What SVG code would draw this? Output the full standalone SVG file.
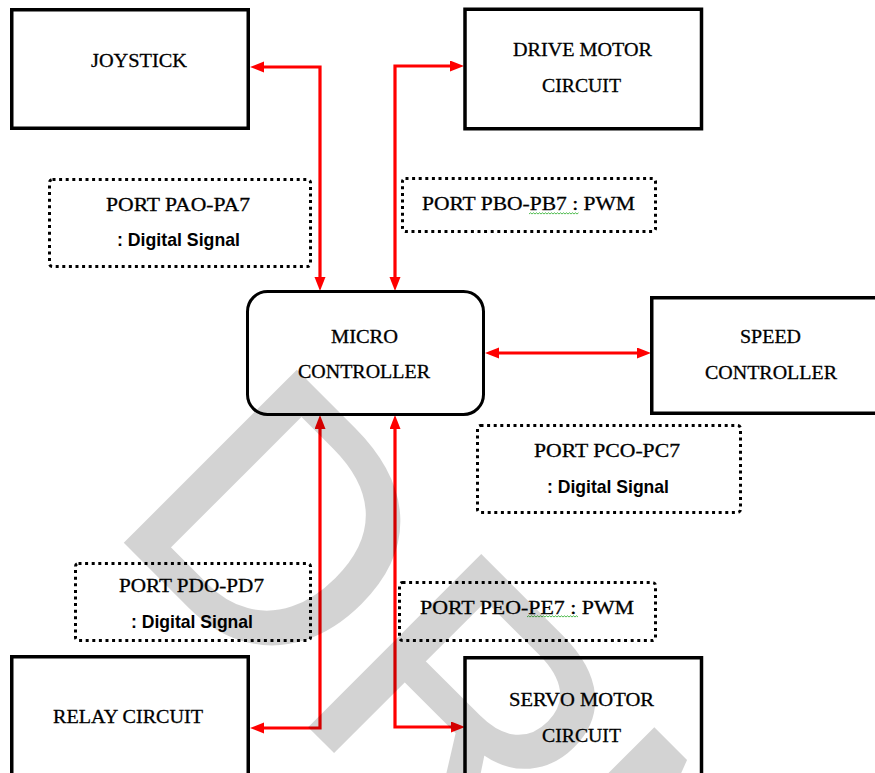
<svg xmlns="http://www.w3.org/2000/svg" width="875" height="773" viewBox="0 0 875 773">
<style>
.box{fill:none;stroke:#000;stroke-width:3.5}
.dot{fill:none;stroke:#000;stroke-width:3;stroke-dasharray:3 3.6}
.t{font-family:"Liberation Serif","Times New Roman",serif;font-size:19.5px;fill:#000;stroke:#000;stroke-width:0.3;text-anchor:middle}
.s{font-family:"Liberation Sans",Arial,sans-serif;font-weight:bold;font-size:19px;fill:#000;text-anchor:middle}
.c{fill:none;stroke:#f00;stroke-width:3.2;marker-start:url(#ah);marker-end:url(#ah)}
.sq{fill:none;stroke:#2a2;stroke-width:0.8}
</style>
<defs>
<marker id="ah" markerUnits="userSpaceOnUse" markerWidth="15" markerHeight="12" refX="5" refY="5.5" orient="auto-start-reverse">
<path d="M0,0 L14,5.5 L0,11 z" fill="#f00"/>
</marker>
</defs>
<rect width="875" height="773" fill="#fff"/>
<g id="connectors">
<path class="c" d="M259,67 H320 V282"/>
<path class="c" d="M395,282 V66 H455"/>
<path class="c" d="M494,353 H642"/>
<path class="c" d="M320,424 V728 H259"/>
<path class="c" d="M395,424 V727 H456"/>
</g>
<g id="joystick">
<rect class="box" x="11.75" y="9.75" width="236.5" height="118.5"/>
<text class="t" x="139" y="67" textLength="96" lengthAdjust="spacingAndGlyphs">JOYSTICK</text>
</g>
<g id="drive-motor">
<rect class="box" x="465" y="9.25" width="236.5" height="119.5"/>
<text class="t" x="582.5" y="56" textLength="139" lengthAdjust="spacingAndGlyphs">DRIVE MOTOR</text>
<text class="t" x="581.5" y="92" textLength="79" lengthAdjust="spacingAndGlyphs">CIRCUIT</text>
</g>
<g id="port-pa">
<rect class="dot" x="49.5" y="179.5" width="261" height="87" rx="3"/>
<text class="t" x="178" y="211" textLength="144" lengthAdjust="spacingAndGlyphs">PORT PAO-PA7</text>
<text class="s" x="178.5" y="246" textLength="123" lengthAdjust="spacingAndGlyphs">: Digital Signal</text>
</g>
<g id="port-pb">
<rect class="dot" x="402.5" y="178.5" width="253" height="53" rx="3"/>
<text class="t" x="528.5" y="210" textLength="213" lengthAdjust="spacingAndGlyphs">PORT PBO-PB7 : PWM</text>
<path class="sq" d="M529,214 l1.5,-1.2 l1.5,1.2 l1.5,-1.2 l1.5,1.2 l1.5,-1.2 l1.5,1.2 l1.5,-1.2 l1.5,1.2 l1.5,-1.2 l1.5,1.2 l1.5,-1.2 l1.5,1.2 l1.5,-1.2 l1.5,1.2 l1.5,-1.2 l1.5,1.2 l1.5,-1.2 l1.5,1.2 l1.5,-1.2 l1.5,1.2 l1.5,-1.2 l1.5,1.2 l1.5,-1.2 l1.5,1.2 l1.5,-1.2 l1.5,1.2 l1.5,-1.2 l1.5,1.2 l1.5,-1.2 l1.5,1.2 l1.5,-1.2 l1.5,1.2 l1.5,-1.2"/>
</g>
<g id="micro-controller">
<rect x="247.5" y="291.5" width="236" height="123" rx="20" fill="none" stroke="#000" stroke-width="3"/>
<text class="t" x="364.5" y="343" textLength="67" lengthAdjust="spacingAndGlyphs">MICRO</text>
<text class="t" x="364" y="378" textLength="132" lengthAdjust="spacingAndGlyphs">CONTROLLER</text>
</g>
<g id="speed-controller">
<rect class="box" x="651.75" y="297.75" width="240" height="115.5"/>
<text class="t" x="770.5" y="343" textLength="61" lengthAdjust="spacingAndGlyphs">SPEED</text>
<text class="t" x="771" y="379" textLength="132" lengthAdjust="spacingAndGlyphs">CONTROLLER</text>
</g>
<g id="port-pc">
<rect class="dot" x="477.5" y="425.5" width="263" height="87" rx="3"/>
<text class="t" x="607" y="457" textLength="146" lengthAdjust="spacingAndGlyphs">PORT PCO-PC7</text>
<text class="s" x="608" y="493" textLength="122" lengthAdjust="spacingAndGlyphs">: Digital Signal</text>
</g>
<g id="port-pd">
<rect class="dot" x="75.5" y="563.5" width="235" height="77" rx="3"/>
<text class="t" x="191.5" y="592" textLength="145" lengthAdjust="spacingAndGlyphs">PORT PDO-PD7</text>
<text class="s" x="192" y="628" textLength="122" lengthAdjust="spacingAndGlyphs">: Digital Signal</text>
</g>
<g id="port-pe">
<rect class="dot" x="399.5" y="582.5" width="256" height="58" rx="3"/>
<text class="t" x="527" y="614" textLength="214" lengthAdjust="spacingAndGlyphs">PORT PEO-PE7 : PWM</text>
<path class="sq" d="M527,617 l1.5,-1.2 l1.5,1.2 l1.5,-1.2 l1.5,1.2 l1.5,-1.2 l1.5,1.2 l1.5,-1.2 l1.5,1.2 l1.5,-1.2 l1.5,1.2 l1.5,-1.2 l1.5,1.2 l1.5,-1.2 l1.5,1.2 l1.5,-1.2 l1.5,1.2 l1.5,-1.2 l1.5,1.2 l1.5,-1.2 l1.5,1.2 l1.5,-1.2 l1.5,1.2 l1.5,-1.2 l1.5,1.2 l1.5,-1.2 l1.5,1.2 l1.5,-1.2 l1.5,1.2 l1.5,-1.2 l1.5,1.2 l1.5,-1.2 l1.5,1.2 l1.5,-1.2 l1.5,1.2"/>
</g>
<g id="relay-circuit">
<rect class="box" x="11.75" y="656.75" width="236.5" height="130"/>
<text class="t" x="128" y="723" textLength="150" lengthAdjust="spacingAndGlyphs">RELAY CIRCUIT</text>
</g>
<g id="servo-motor">
<rect class="box" x="465" y="657.75" width="236.5" height="130"/>
<text class="t" x="581.5" y="706" textLength="145" lengthAdjust="spacingAndGlyphs">SERVO MOTOR</text>
<text class="t" x="581.5" y="742" textLength="79" lengthAdjust="spacingAndGlyphs">CIRCUIT</text>
</g>
<g id="watermark" opacity="0.17">
<text x="0" y="0" transform="translate(106.3,522.5) rotate(45)" font-family="Liberation Sans,Arial,sans-serif" font-size="350" letter-spacing="8" fill="#000" stroke="#000" stroke-width="4">DR<tspan dx="-16">M</tspan></text>
</g>
</svg>
